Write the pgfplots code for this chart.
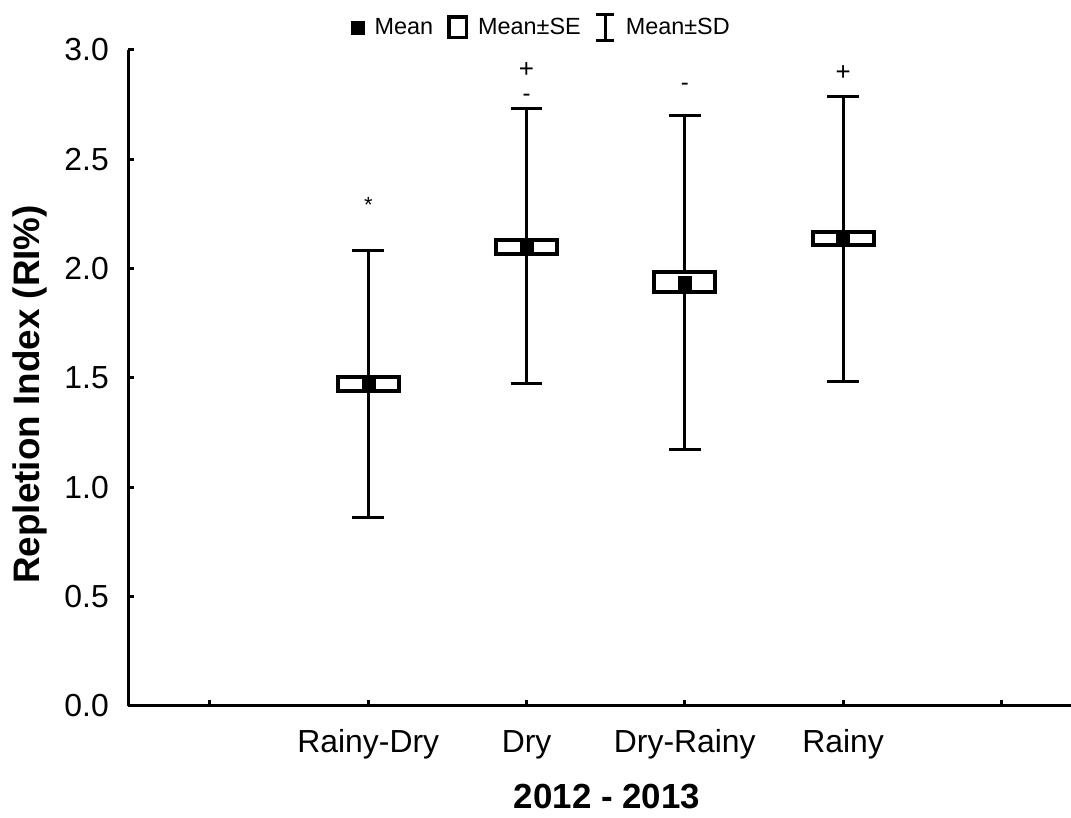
\documentclass[border=0pt]{standalone}
\usepackage{fontspec}
\setmainfont{Liberation Sans}
\usepackage{pgfplots}
\pgfplotsset{compat=1.18}
\usepgfplotslibrary{statistics}
\begin{document}
\begin{tikzpicture}[x=1bp,y=1bp]
\useasboundingbox (0,0) rectangle (1071,818);
\begin{axis}[
  at={(128bp,112bp)}, anchor=south west,
  scale only axis, width=943bp, height=656bp,
  xmin=-0.518, xmax=5.44, ymin=0, ymax=3,
  axis lines=left,
  axis line style={-, line width=3bp, black},
  tick align=inside,
  major tick length=6bp,
  tick style={line width=3bp, black},
  xtick={0,1,2,3,4,5},
  xticklabels={,Rainy-Dry,Dry,Dry-Rainy,Rainy,},
  ytick={0,0.5,1,1.5,2,2.5,3},
  /pgf/number format/assume math mode=true,
  /pgf/number format/.cd, fixed, fixed zerofill, precision=1, /pgfplots/.cd,
  yticklabel style={font=\fontsize{32}{36}\selectfont, anchor=east, inner sep=0pt, xshift=-19bp},
  xticklabel style={font=\fontsize{32}{36}\selectfont, anchor=north, inner sep=0pt, text height=23bp, text depth=7bp, yshift=-23bp},
  xlabel={\textbf{2012 - 2013}},
  xlabel style={at={(rel axis cs:0.508,0)}, anchor=north, inner sep=0pt, text height=24bp, text depth=0bp, yshift=-78bp, font=\fontsize{35}{40}\selectfont},
  ylabel={\textbf{Repletion Index (RI\%)}},
  ylabel style={at={(rel axis cs:-0.104,0.475)}, anchor=center, font=\fontsize{37}{40}\selectfont},
  clip=false,
  legend columns=3,
  legend style={at={(rel axis cs:0.4374,1.0343)}, anchor=center, draw=none, fill=none,
     font=\fontsize{23.5}{26}\selectfont, inner sep=0pt, nodes={inner sep=0pt},
     /tikz/every even column/.append style={column sep=14bp},
     /tikz/every odd column/.append style={column sep=10bp}},
  legend cell align=left,
  boxplot/draw direction=y,
  boxplot/every box/.style={draw=black, line width=4bp, fill=white},
  boxplot/every whisker/.style={draw=black, line width=3bp},
  boxplot/every median/.style={draw=none},
]
\addlegendimage{legend image code/.code={\fill[black] (0bp,-6.5bp) rectangle (13bp,6.5bp);}}
\addlegendentry{Mean}
\addlegendimage{legend image code/.code={\path[draw=none,fill=none] (0bp,-12bp) rectangle (21bp,12bp); \draw[black, line width=3.5bp] (1.75bp,-10.25bp) rectangle (19.25bp,10.25bp);}}
\addlegendentry{Mean±SE}
\addlegendimage{legend image code/.code={\path[draw=none,fill=none] (0bp,-14.5bp) rectangle (21bp,14.5bp); \draw[black, line width=3bp] (10.5bp,-13bp) -- (10.5bp,13bp) (1.5bp,-13bp) -- (19.5bp,-13bp) (1.5bp,13bp) -- (19.5bp,13bp);}}
\addlegendentry{Mean±SD}

\addplot[forget plot, boxplot prepared={draw position=1, lower whisker=0.860, lower quartile=1.440, median=1.440, upper quartile=1.504, upper whisker=2.085, box extend=0.385, whisker extend=0.2}] coordinates {};
\addplot[forget plot, boxplot prepared={draw position=2, lower whisker=1.477, lower quartile=2.069, median=2.069, upper quartile=2.132, upper whisker=2.734, box extend=0.385, whisker extend=0.2}] coordinates {};
\addplot[forget plot, boxplot prepared={draw position=3, lower whisker=1.174, lower quartile=1.891, median=1.891, upper quartile=1.984, upper whisker=2.702, box extend=0.385, whisker extend=0.2}] coordinates {};
\addplot[forget plot, boxplot prepared={draw position=4, lower whisker=1.486, lower quartile=2.107, median=2.107, upper quartile=2.167, upper whisker=2.786, box extend=0.385, whisker extend=0.2}] coordinates {};

\addplot[forget plot, only marks, mark=square*, mark size=6.5bp, black] coordinates {(1,1.472) (2,2.103) (3,1.934) (4,2.137)};

\node[font=\fontsize{22}{24}\selectfont] at (axis cs:1,2.29) {*};
\node[font=\fontsize{26}{28}\selectfont] at (axis cs:2,2.908) {+};
\node[font=\fontsize{24}{26}\selectfont] at (axis cs:2,2.78) {-};
\node[font=\fontsize{24}{26}\selectfont] at (axis cs:3,2.83) {-};
\node[font=\fontsize{26}{28}\selectfont] at (axis cs:4,2.894) {+};
\end{axis}
\end{tikzpicture}
\end{document}
